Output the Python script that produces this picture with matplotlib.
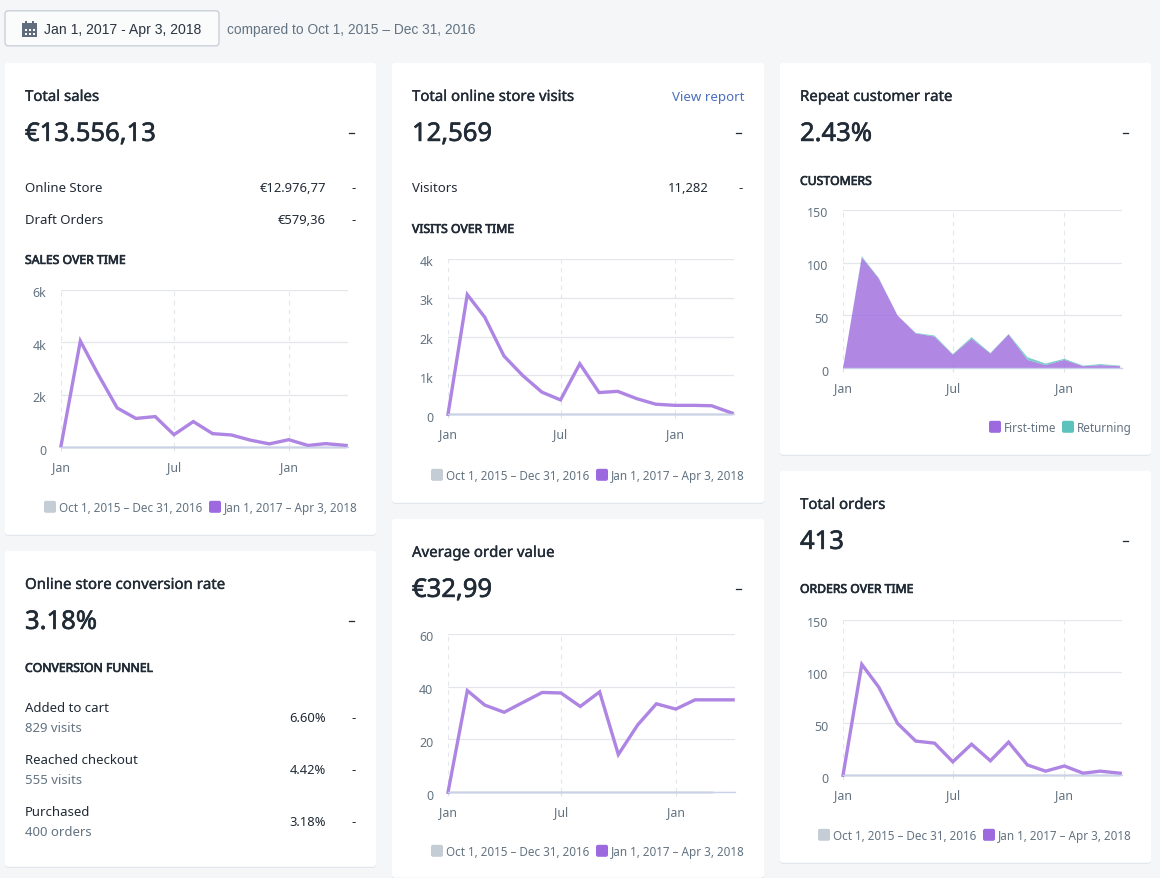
import matplotlib
matplotlib.use("Agg")
from matplotlib import pyplot as plt
from matplotlib import patheffects
from matplotlib.patches import FancyBboxPatch, Rectangle
from matplotlib.transforms import ScaledTranslation

W, H = 1160, 879

# days since Jan 1 2017 for each point, the x axis is a time scale
days = [0, 31, 59, 90, 120, 151, 181, 212, 243, 273, 304, 334, 365, 396, 424, 457]
sales = [50, 4050, 2800, 1500, 1100, 1170, 480, 980, 520, 470, 270, 130, 290, 70, 140, 70]
visits = [0, 3080, 2500, 1500, 1000, 570, 370, 1300, 560, 590, 400, 260, 230, 230, 220, 30]
order_value = [0, 38.5, 33, 30.3, 34, 37.8, 37.6, 32.5, 38, 14.3, 25.5, 33.5, 31.5, 35, 35, 35]
orders = [0, 107, 85, 50, 33, 31, 13, 30, 14, 32, 10, 4, 9, 2, 4, 2]
first_time = [0, 105, 85, 50, 33, 30, 13, 28, 14, 32, 8, 3, 8, 2, 3, 2]
returning = [0, 1, 0.5, 0, 0.5, 1, 0.5, 1.5, 0.5, 0.5, 2.5, 1.5, 1, 0.5, 1, 0.5]
previous = [0] * 16

x_ticks = [0, 181, 365]
x_labels = ["Jan", "Jul", "Jan"]
range_prev = "Oct 1, 2015 – Dec 31, 2016"
range_cur = "Jan 1, 2017 – Apr 3, 2018"

BG = "#f4f6f8"
DARK = "#212b36"
GRAY = "#637381"
GRID = "#e3e6ea"
PURPLE = "#9c6ade"
LINE = "#ae85e3"
TEAL = "#5bc2bd"
PREV = "#c4cdd5"
FONT = "Noto Sans"
SHIFT = 0.8  # everything sat a touch high against the reference

fig = plt.figure(figsize=(W / 100, H / 100), dpi=100, facecolor=BG)
bg = fig.add_axes([0, 0, 1, 1])
bg.set_xlim(0, W)
bg.set_ylim(H - SHIFT, -SHIFT)
bg.axis("off")


def px(size):
    return size * 0.72


def label(x, y, s, size=13.2, color=DARK, ha="left", stroke=0, family=FONT):
    t = bg.text(x, y + 1.6, s, fontsize=px(size), color=color, ha=ha, va="center", family=family)
    if stroke:
        t.set_path_effects([patheffects.withStroke(linewidth=stroke, foreground=color)])


def title(x, y, s):
    label(x, y, s, size=15, stroke=0.25)


def big(x, y, s):
    label(x, y, s, size=25.6, stroke=0.45)


def heading(x, y, s):
    label(x, y, s, size=12.2, stroke=0.5)


def dash(x, y):
    label(x, y, "–", size=15, ha="right", stroke=0.2)


def card(x0, y0, x1, y1):
    # soft shadow first, then the white card
    bg.add_patch(FancyBboxPatch((x0, y0 + 1), x1 - x0, y1 - y0, boxstyle="round,pad=0,rounding_size=3",
                                fc="#dfe3e8", ec="none"))
    bg.add_patch(FancyBboxPatch((x0, y0), x1 - x0, y1 - y0, boxstyle="round,pad=0,rounding_size=3",
                                fc="white", ec="none"))


def swatch(x, y, color):
    bg.add_patch(FancyBboxPatch((x, y - 6), 12, 12, boxstyle="round,pad=0,rounding_size=2",
                                fc=color, ec="none"))


def legend(y, items):
    for x, color, text in items:
        swatch(x, y, color)
        label(x + 15, y - 1, text, size=11.7, color=GRAY)


def chart(x0, x1, y_top, y_bot, ymax, yticks, ylabels, xmax=460):
    ax = fig.add_axes([x0 / W, 1 - (y_bot + SHIFT) / H, (x1 - x0) / W, (y_bot - y_top) / H])
    ax.set_xlim(0, xmax)
    ax.set_ylim(0, ymax)
    ax.patch.set_alpha(0)
    for side in ["top", "right", "left"]:
        ax.spines[side].set_visible(False)
    ax.spines["bottom"].set_color("#c9d2ea")
    ax.spines["bottom"].set_linewidth(1)
    ax.set_yticks(yticks)
    ax.set_yticklabels(ylabels, fontsize=px(12.4), color=GRAY, family=FONT)
    ax.set_xticks(x_ticks)
    ax.set_xticklabels(x_labels, fontsize=px(12.4), color=GRAY, family=FONT)
    ax.tick_params(axis="y", length=0, pad=10.5)
    ax.tick_params(axis="x", length=3, pad=6.5, color="#dfe3e8", width=0.8)
    # y labels sit slightly below their grid lines
    for tick in ax.get_yticklabels():
        tick.set_transform(tick.get_transform() + ScaledTranslation(0, -1.5 / 100, fig.dpi_scale_trans))
    ax.set_axisbelow(True)
    ax.grid(axis="y", color=GRID, lw=0.9)
    ax.grid(axis="x", color=GRID, lw=0.8, ls=(0, (4, 4)))
    return ax


def line_chart(ax, values, prev):
    ax.plot(days[:len(prev)], prev, color=PREV, lw=2, alpha=0.5, clip_on=False, solid_capstyle="butt")
    ax.plot(days, values, color=LINE, lw=2.4, clip_on=False, solid_joinstyle="miter")


# header
bg.add_patch(FancyBboxPatch((5, 11), 214, 35, boxstyle="round,pad=0,rounding_size=3",
                            fc="#fafbfb", ec="#c4cdd5", lw=0.9))
bg.add_patch(Rectangle((22, 23), 15, 14, fc="#5f6d7c", ec="none"))
bg.add_patch(Rectangle((25, 21), 2, 3, fc="#5f6d7c", ec="none"))
bg.add_patch(Rectangle((32, 21), 2, 3, fc="#5f6d7c", ec="none"))
for dot_y in [29, 33]:
    for dot_x in [24.5, 28.5, 32.5]:
        bg.add_patch(Rectangle((dot_x, dot_y), 2, 2, fc="white", ec="none"))
label(44, 27.5, "Jan 1, 2017 - Apr 3, 2018", size=14, color="#2b3540", family="Liberation Sans")
label(227, 27.5, "compared to Oct 1, 2015 – Dec 31, 2016", size=13.7, color=GRAY, family="Liberation Sans")

card(5, 63, 376, 535)
card(5, 551, 376, 867)
card(392, 63, 764, 503)
card(392, 519, 764, 878)
card(780, 63, 1151, 455)
card(780, 471, 1151, 863)
card(780, 879, 1151, 900)

# total sales
title(25, 96, "Total sales")
big(25, 133, "€13.556,13")
dash(356, 133)
label(25, 186, "Online Store")
label(326, 186, "€12.976,77", size=13, ha="right")
label(356, 186, "-", ha="right")
label(25, 218, "Draft Orders")
label(326, 218, "€579,36", size=13, ha="right")
label(356, 218, "-", ha="right")
heading(25, 259, "SALES OVER TIME")
ax = chart(61, 348, 290, 447.5, 6000, [0, 2000, 4000, 6000], ["0", "2k", "4k", "6k"])
line_chart(ax, sales, previous)
legend(507, [(44, PREV, range_prev), (209, PURPLE, range_cur)])

# conversion rate
title(25, 584, "Online store conversion rate")
big(25, 621, "3.18%")
dash(356, 621)
heading(25, 667, "CONVERSION FUNNEL")
funnel = [("Added to cart", "829 visits", "6.60%", 706), ("Reached checkout", "555 visits", "4.42%", 758),
          ("Purchased", "400 orders", "3.18%", 810)]
for name, count, rate, y in funnel:
    label(25, y, name)
    label(25, y + 20, count, color=GRAY)
    label(326, y + 10, rate, size=13, ha="right")
    label(356, y + 10, "-", ha="right")

# online store visits
title(412, 96, "Total online store visits")
label(744, 95, "View report", size=13.3, ha="right", color="#4a6fbf")
big(412, 133, "12,569")
dash(743, 133)
label(412, 186, "Visitors")
label(709, 186, "11,282", size=13, ha="right")
label(743, 186, "-", ha="right")
heading(412, 228, "VISITS OVER TIME")
ax = chart(448, 734, 259, 414.5, 4000, [0, 1000, 2000, 3000, 4000], ["0", "1k", "2k", "3k", "4k"])
line_chart(ax, visits, previous)
legend(475, [(431, PREV, range_prev), (596, PURPLE, range_cur)])

# average order value
title(412, 552, "Average order value")
big(412, 589, "€32,99")
dash(743, 589)
ax = chart(448, 735, 634, 792.5, 60, [0, 20, 40, 60], ["0", "20", "40", "60"])
line_chart(ax, order_value, previous[:15])
legend(851, [(431, PREV, range_prev), (596, PURPLE, range_cur)])

# repeat customers
title(800, 96, "Repeat customer rate")
big(800, 133, "2.43%")
dash(1130, 133)
heading(800, 180, "CUSTOMERS")
ax = chart(843, 1122, 210, 368.5, 150, [0, 50, 100, 150], ["0", "50", "100", "150"])
ax.stackplot(days, first_time, returning, colors=[PURPLE, TEAL], alpha=0.8, lw=0)
legend(427, [(989, PURPLE, "First-time"), (1062, TEAL, "Returning")])

# total orders
title(800, 504, "Total orders")
big(800, 541, "413")
dash(1130, 541)
heading(800, 588, "ORDERS OVER TIME")
ax = chart(843, 1122, 620, 775.5, 150, [0, 50, 100, 150], ["0", "50", "100", "150"])
line_chart(ax, orders, previous)
legend(835, [(818, PREV, range_prev), (983, PURPLE, range_cur)])

fig.savefig("out.png", dpi=100, facecolor=BG)
